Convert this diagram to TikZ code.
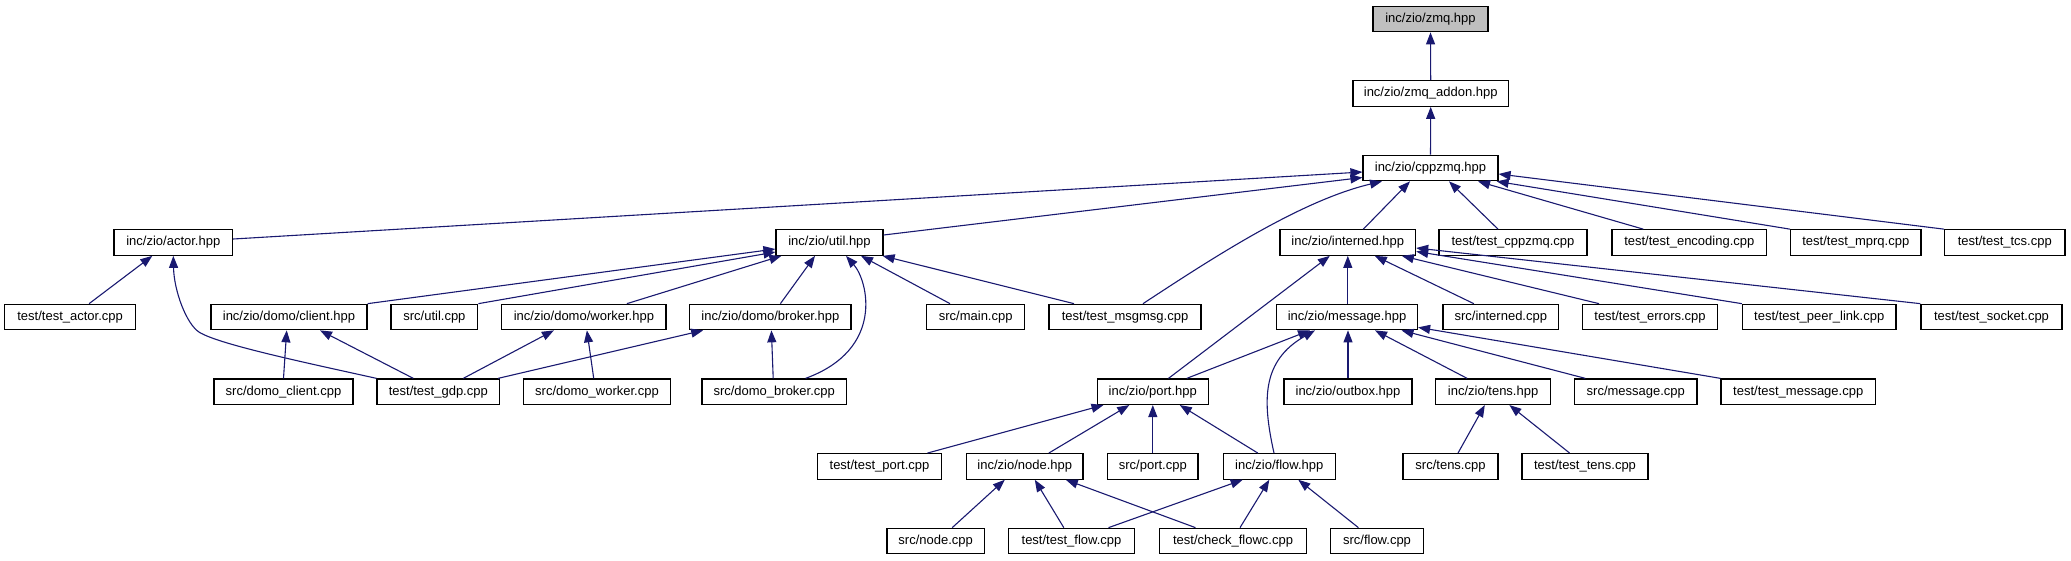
\documentclass[tikz,border=0pt]{standalone}
\usepackage{fontspec}
\setmainfont{Liberation Sans}
\usetikzlibrary{arrows.meta,calc}
\definecolor{edgec}{HTML}{191970}
\definecolor{rootc}{HTML}{BFBFBF}
\begin{document}
\begin{tikzpicture}[x=1pt,y=-1pt,
  box/.style={draw=black, line width=1.2pt, fill=white, inner sep=0pt, minimum height=25.5pt,
              text height=9.4pt, text depth=2.6pt, font=\fontsize{13}{15}\selectfont},
  edge/.style={draw=edgec, line width=1.1pt, -{Triangle[length=12pt,width=9pt]}},
]
\useasboundingbox (0,0) rectangle (2071,560);
% row 1-3
\node[box,fill=rootc,minimum width=115pt] (zmq) at (1430.5,19) {inc/zio/zmq.hpp};
\node[box,minimum width=155.5pt] (addon) at (1430.7,93.5) {inc/zio/zmq\_addon.hpp};
\node[box,minimum width=135pt] (cppzmq) at (1430.5,168) {inc/zio/cppzmq.hpp};
% row 4
\node[box,minimum width=118.6pt] (actor) at (173.3,242.5) {inc/zio/actor.hpp};
\node[box,minimum width=107pt] (util) at (829.5,242.5) {inc/zio/util.hpp};
\node[box,minimum width=135.6pt] (interned) at (1347.8,242.5) {inc/zio/interned.hpp};
\node[box,minimum width=148pt] (tcppzmq) at (1513,242.5) {test/test\_cppzmq.cpp};
\node[box,minimum width=154.5pt] (tenc) at (1689.3,242.5) {test/test\_encoding.cpp};
\node[box,minimum width=130.4pt] (tmprq) at (1855.8,242.5) {test/test\_mprq.cpp};
\node[box,minimum width=120.4pt] (ttcs) at (2004.8,242.5) {test/test\_tcs.cpp};
% row 5
\node[box,minimum width=131.2pt] (tactor) at (70.1,317) {test/test\_actor.cpp};
\node[box,minimum width=156pt] (client) at (289,317) {inc/zio/domo/client.hpp};
\node[box,minimum width=86.7pt] (sutil) at (434.4,317) {src/util.cpp};
\node[box,minimum width=164.2pt] (worker) at (583.9,317) {inc/zio/domo/worker.hpp};
\node[box,minimum width=161.3pt] (broker) at (770.4,317) {inc/zio/domo/broker.hpp};
\node[box,minimum width=97.7pt] (smain) at (975.7,317) {src/main.cpp};
\node[box,minimum width=152pt] (tmsg) at (1125,317) {test/test\_msgmsg.cpp};
\node[box,minimum width=141pt] (message) at (1347,317) {inc/zio/message.hpp};
\node[box,minimum width=115.5pt] (sinterned) at (1500.8,317) {src/interned.cpp};
\node[box,minimum width=134.8pt] (terrors) at (1650,317) {test/test\_errors.cpp};
\node[box,minimum width=153.6pt] (tpeer) at (1819.2,317) {test/test\_peer\_link.cpp};
\node[box,minimum width=141pt] (tsocket) at (1991.5,317) {test/test\_socket.cpp};
% row 6
\node[box,minimum width=139pt] (dclient) at (283.5,391.7) {src/domo\_client.cpp};
\node[box,minimum width=122.5pt] (tgdp) at (438.3,391.7) {test/test\_gdp.cpp};
\node[box,minimum width=146.9pt] (dworker) at (597,391.7) {src/domo\_worker.cpp};
\node[box,minimum width=144.4pt] (dbroker) at (774.2,391.7) {src/domo\_broker.cpp};
\node[box,minimum width=111.4pt] (port) at (1152.8,391.7) {inc/zio/port.hpp};
\node[box,minimum width=128pt] (outbox) at (1348,391.7) {inc/zio/outbox.hpp};
\node[box,minimum width=114.8pt] (tens) at (1493.1,391.7) {inc/zio/tens.hpp};
\node[box,minimum width=122.4pt] (smessage) at (1635.8,391.7) {src/message.cpp};
\node[box,minimum width=154.4pt] (tmessage) at (1798.2,391.7) {test/test\_message.cpp};
% row 7
\node[box,minimum width=124.1pt] (tport) at (879.5,466.4) {test/test\_port.cpp};
\node[box,minimum width=116.5pt] (node) at (1024.8,466.4) {inc/zio/node.hpp};
\node[box,minimum width=90.4pt] (sport) at (1152.8,466.4) {src/port.cpp};
\node[box,minimum width=112.4pt] (flow) at (1279.3,466.4) {inc/zio/flow.hpp};
\node[box,minimum width=95pt] (stens) at (1450.5,466.4) {src/tens.cpp};
\node[box,minimum width=126pt] (ttens) at (1585,466.4) {test/test\_tens.cpp};
% row 8
\node[box,minimum width=97.4pt] (snode) at (935.7,541) {src/node.cpp};
\node[box,minimum width=125.9pt] (tflow) at (1071.5,541) {test/test\_flow.cpp};
\node[box,minimum width=146.4pt] (checkf) at (1233,541) {test/check\_flowc.cpp};
\node[box,minimum width=93.4pt] (sflow) at (1377,541) {src/flow.cpp};

% edges
\draw[edge] (addon.north) -- (zmq.south);
\draw[edge] (cppzmq.north) -- (addon.south);
\draw[edge] ($(actor.east)+(0,-3.5)$) -- ($(cppzmq.west)+(0,4)$);
\draw[edge] ($(util.east)+(0,-7.5)$) -- ($(cppzmq.west)+(0,9.5)$);
\draw[edge] ($(tmsg.north)+(18,0)$) .. controls ($(tmsg.north)+(85,-44)$) and ($(cppzmq.south)+(-130.5,19.25)$) .. ($(cppzmq.south)+(-48.5,0)$);
\draw[edge] ($(interned.north)+(15.5,0)$) -- ($(cppzmq.south)+(-20.5,0)$);
\draw[edge] ($(tcppzmq.north)+(-15,0)$) -- ($(cppzmq.south)+(18.5,0)$);
\draw[edge] ($(tenc.north)+(-46,0)$) -- ($(cppzmq.south)+(47.5,0)$);
\draw[edge] (tmprq.north west) -- ($(cppzmq.south east)+(-2,0)$);
\draw[edge] (ttcs.north west) -- ($(cppzmq.east)+(0,6)$);

\draw[edge] ($(tactor.north)+(19,0)$) -- ($(actor.south)+(-21,0)$);
\draw[edge] (tgdp.north west) .. controls ($(tgdp.north west)+(-77,-17)$) and ($(tgdp.north west)+(-157,-34)$) .. ($(tgdp.north west)+(-177,-46)$) .. controls ($(tgdp.north west)+(-190,-54)$) and ($(actor.south)+(0.7,35)$) .. (actor.south);

\draw[edge] (client.north east) -- ($(util.west)+(0,6.5)$);
\draw[edge] (sutil.north east) -- ($(util.west)+(0,9.5)$);
\draw[edge] ($(worker.north)+(43,0)$) -- ($(util.south west)+(6,0)$);
\draw[edge] ($(broker.north)+(10,0)$) -- ($(util.south)+(-14.5,0)$);
\draw[edge] ($(dbroker.north)+(31.4,0)$) .. controls ($(dbroker.north)+(110.8,-29)$) and ($(util.south)+(38.5,25)$) .. ($(util.south)+(16.5,0)$);
\draw[edge] ($(smain.north)+(-25.7,0)$) -- ($(util.south)+(31.5,0)$);
\draw[edge] ($(tmsg.north)+(-51,0)$) -- ($(util.south east)+(-1,0)$);

\draw[edge] (dclient.north) -- ($(client.south)+(-2.3,0)$);
\draw[edge] ($(tgdp.north)+(-25,0)$) -- ($(client.south)+(31,0)$);
\draw[edge] ($(tgdp.north)+(25,0)$) -- ($(worker.south)+(-30,0)$);
\draw[edge] ($(dworker.north)+(-3.3,0)$) -- ($(worker.south)+(3,0)$);
\draw[edge] ($(tgdp.north east)+(-2,0)$) -- ($(broker.south west)+(14,0)$);
\draw[edge] ($(dbroker.north)+(-1,0)$) -- ($(broker.south)+(1,0)$);

\draw[edge] ($(port.north)+(15.7,0)$) -- ($(interned.south)+(-18,0)$);
\draw[edge] (interned.south |- message.north) -- (interned.south);
\draw[edge] ($(sinterned.north)+(-27,0)$) -- ($(interned.south)+(27,0)$);
\draw[edge] ($(terrors.north)+(-51,0)$) -- ($(interned.south)+(54,0)$);
\draw[edge] (tpeer.north west) -- ($(interned.east)+(0,9)$);
\draw[edge] (tsocket.north west) -- ($(interned.east)+(0,5.5)$);

\draw[edge] ($(port.north)+(34,0)$) -- ($(message.south)+(-37,0)$);
\draw[edge] ($(flow.north)+(-5.3,0)$) .. controls ($(flow.north)+(-17.3,-53.65)$) and ($(message.south)+(-85,30.25)$) .. ($(message.south)+(-32,0)$);
\draw[edge] (outbox.north) -- (outbox.north |- message.south);
\draw[edge] ($(tens.north)+(-26,0)$) -- ($(message.south)+(28,0)$);
\draw[edge] ($(smessage.north)+(-50.5,0)$) -- ($(message.south)+(54.5,0)$);
\draw[edge] (tmessage.north west) -- ($(message.south east)+(0,-3)$);

\draw[edge] ($(tport.north)+(48,0)$) -- ($(port.south west)+(7,0)$);
\draw[edge] ($(node.north)+(24,0)$) -- ($(port.south)+(-23.5,0)$);
\draw[edge] (sport.north) -- (port.south);
\draw[edge] ($(flow.north)+(-21.5,0)$) -- ($(port.south)+(27,0)$);

\draw[edge] ($(stens.north)+(7.5,0)$) -- ($(tens.south)+(-8.3,0)$);
\draw[edge] ($(ttens.north)+(-15.4,0)$) -- ($(tens.south)+(16.3,0)$);

\draw[edge] ($(snode.north)+(16.5,0)$) -- ($(node.south)+(-20,0)$);
\draw[edge] ($(tflow.north)+(-7.7,0)$) -- ($(node.south)+(10,0)$);
\draw[edge] ($(checkf.north)+(-37.5,0)$) -- ($(node.south)+(41,0)$);
\draw[edge] ($(tflow.north)+(37,0)$) -- ($(flow.south)+(-36.6,0)$);
\draw[edge] ($(checkf.north)+(7,0)$) -- ($(flow.south)+(-10,0)$);
\draw[edge] ($(sflow.north)+(-18.6,0)$) -- ($(flow.south)+(19,0)$);
\end{tikzpicture}
\end{document}
